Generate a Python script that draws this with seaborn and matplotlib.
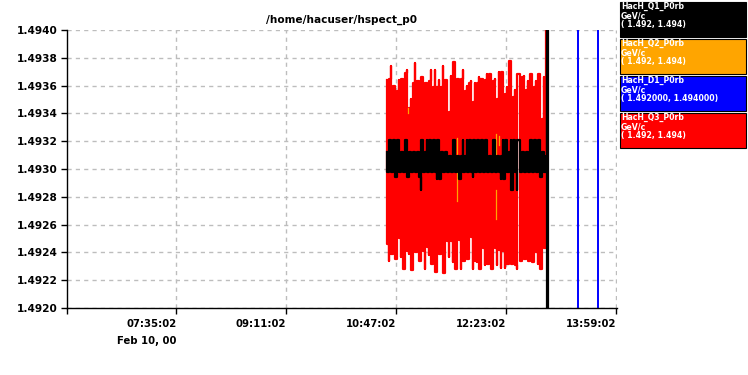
import numpy as np
import pandas as pd
import matplotlib
matplotlib.use("Agg")
import matplotlib.pyplot as plt
from matplotlib.patches import Rectangle
import seaborn as sns

# ---------------- data ----------------
title = "/home/hacuser/hspect_p0"
tick_times = ["2000-02-10 07:35:02", "2000-02-10 09:11:02", "2000-02-10 10:47:02",
              "2000-02-10 12:23:02", "2000-02-10 13:59:02"]
tick_labels = ["07:35:02\nFeb 10, 00", "09:11:02", "10:47:02", "12:23:02", "13:59:02"]
x_start = "2000-02-10 05:59:38"
x_end = "2000-02-10 13:59:30"
y_ticks = [1.4920, 1.4922, 1.4924, 1.4926, 1.4928, 1.4930, 1.4932, 1.4934, 1.4936, 1.4938, 1.4940]

sample_start = "2000-02-10 10:38:56"
sample_step_s = 105

# HacH_Q3_P0rb (red): per-sample max / min
red_hi = [1.49364, 1.49365, 1.49374, 1.49360, 1.49359, 1.49356, 1.49364, 1.49365, 1.49365, 1.49369,
          1.49371, 1.49344, 1.49350, 1.49362, 1.49376, 1.49363, 1.49363, 1.49366, 1.49361, 1.49362,
          1.49362, 1.49363, 1.49371, 1.49359, 1.49371, 1.49359, 1.49364, 1.49359, 1.49374, 1.49364,
          1.49362, 1.49341, 1.49367, 1.49377, 1.49362, 1.49365, 1.49365, 1.49365, 1.49371, 1.49356,
          1.49360, 1.49362, 1.49363, 1.49348, 1.49362, 1.49362, 1.49366, 1.49365, 1.49364, 1.49364,
          1.49368, 1.49368, 1.49365, 1.49363, 1.49365, 1.49350, 1.49370, 1.49370, 1.49370, 1.49354,
          1.49359, 1.49378, 1.49371, 1.49352, 1.49357, 1.49368, 1.49366, 1.49366, 1.49367, 1.49357,
          1.49363, 1.49368, 1.49364, 1.49359, 1.49363, 1.49368, 1.49363, 1.49336, 1.49366, 1.49368]
red_lo = [1.49246, 1.49234, 1.49239, 1.49241, 1.49235, 1.49239, 1.49250, 1.49237, 1.49228, 1.49240,
          1.49241, 1.49239, 1.49227, 1.49237, 1.49240, 1.49245, 1.49234, 1.49234, 1.49241, 1.49228,
          1.49244, 1.49238, 1.49232, 1.49241, 1.49226, 1.49237, 1.49239, 1.49239, 1.49225, 1.49239,
          1.49248, 1.49237, 1.49248, 1.49233, 1.49228, 1.49235, 1.49249, 1.49228, 1.49234, 1.49239,
          1.49235, 1.49245, 1.49251, 1.49228, 1.49234, 1.49233, 1.49228, 1.49237, 1.49243, 1.49231,
          1.49232, 1.49246, 1.49228, 1.49239, 1.49243, 1.49231, 1.49242, 1.49229, 1.49241, 1.49229,
          1.49232, 1.49239, 1.49232, 1.49238, 1.49231, 1.49228, 1.49234, 1.49238, 1.49235, 1.49237,
          1.49234, 1.49239, 1.49233, 1.49237, 1.49240, 1.49232, 1.49228, 1.49231, 1.49243, 1.49244]
red_end_time = "2000-02-10 12:57:44"
red_end_value = 1.4950

# HacH_Q1_P0rb (black)
black_hi = [1.49312, 1.49321, 1.49312, 1.49321, 1.49312, 1.49321, 1.49312, 1.49312, 1.49312, 1.49321,
            1.49321, 1.49312, 1.49312, 1.49312, 1.49312, 1.49312, 1.49312, 1.49321, 1.49312, 1.49312,
            1.49321, 1.49321, 1.49312, 1.49321, 1.49321, 1.49321, 1.49312, 1.49312, 1.49312, 1.49312,
            1.49309, 1.49309, 1.49309, 1.49321, 1.49309, 1.49309, 1.49309, 1.49309, 1.49321, 1.49309,
            1.49321, 1.49321, 1.49309, 1.49321, 1.49309, 1.49321, 1.49321, 1.49321, 1.49321, 1.49321,
            1.49309, 1.49309, 1.49309, 1.49321, 1.49309, 1.49309, 1.49309, 1.49309, 1.49321, 1.49321,
            1.49312, 1.49312, 1.49321, 1.49321, 1.49312, 1.49321, 1.49321, 1.49312, 1.49312, 1.49312,
            1.49312, 1.49321, 1.49321, 1.49321, 1.49312, 1.49321, 1.49321, 1.49312, 1.49312, 1.49309]
black_lo = [1.49298, 1.49298, 1.49298, 1.49298, 1.49294, 1.49298, 1.49298, 1.49298, 1.49298, 1.49298,
            1.49294, 1.49298, 1.49298, 1.49298, 1.49298, 1.49298, 1.49294, 1.49285, 1.49298, 1.49298,
            1.49298, 1.49298, 1.49298, 1.49298, 1.49298, 1.49293, 1.49293, 1.49298, 1.49298, 1.49298,
            1.49298, 1.49298, 1.49298, 1.49298, 1.49298, 1.49298, 1.49293, 1.49298, 1.49298, 1.49298,
            1.49298, 1.49298, 1.49298, 1.49294, 1.49298, 1.49298, 1.49298, 1.49298, 1.49298, 1.49298,
            1.49298, 1.49298, 1.49298, 1.49298, 1.49298, 1.49298, 1.49298, 1.49293, 1.49293, 1.49298,
            1.49298, 1.49298, 1.49285, 1.49298, 1.49298, 1.49285, 1.49298, 1.49298, 1.49298, 1.49298,
            1.49298, 1.49298, 1.49298, 1.49298, 1.49298, 1.49298, 1.49294, 1.49298, 1.49298, 1.49298]
black_end_times = ["2000-02-10 12:58:50", "2000-02-10 12:59:40"]
black_end_values = [1.4950, 1.4910]

# HacH_Q2_P0rb (orange): visible spikes
orange_times = ["2000-02-10 10:57:15", "2000-02-10 11:40:02", "2000-02-10 12:14:08",
                "2000-02-10 12:14:08", "2000-02-10 12:16:44"]
orange_top = [1.49344, 1.49322, 1.49325, 1.49285, 1.49324]
orange_bot = [1.49340, 1.49277, 1.49308, 1.49264, 1.49317]

# HacH_D1_P0rb (blue): crossings of the full range
blue_times = ["2000-02-10 13:25:20", "2000-02-10 13:42:44"]
blue_low = [1.4910, 1.4910]
blue_high = [1.4950, 1.4950]

legend_names = ["HacH_Q1_P0rb", "HacH_Q2_P0rb", "HacH_D1_P0rb", "HacH_Q3_P0rb"]
legend_units = ["GeV/c", "GeV/c", "GeV/c", "GeV/c"]
legend_ranges = ["( 1.492, 1.494)", "( 1.492, 1.494)", "( 1.492000, 1.494000)", "( 1.492, 1.494)"]
legend_colors = ["#000000", "#ffa500", "#0000ff", "#ff0000"]

# ---------------- build plotting tables ----------------
sample_times = pd.date_range(sample_start, periods=len(red_hi), freq=f"{sample_step_s}s")


def snake(times, hi, lo):
    xs, ys = [], []
    for i, (t, h, l) in enumerate(zip(times, hi, lo)):
        pair = (h, l) if i % 2 == 0 else (l, h)
        xs += [t, t]
        ys += list(pair)
    return xs, ys


rx, ry = snake(sample_times, red_hi, red_lo)
rx.append(pd.Timestamp(red_end_time)); ry.append(red_end_value)
red_df = pd.DataFrame({"time": rx, "value": ry})

bx, by = snake(sample_times, black_hi, black_lo)
for t in black_end_times:
    for v in black_end_values:
        bx.append(pd.Timestamp(t)); by.append(v)
    black_end_values = black_end_values[::-1]
black_df = pd.DataFrame({"time": bx, "value": by})

o_rows = []
for k, (t, a, b) in enumerate(zip(orange_times, orange_top, orange_bot)):
    o_rows += [(pd.Timestamp(t), a, k), (pd.Timestamp(t), b, k)]
orange_df = pd.DataFrame(o_rows, columns=["time", "value", "seg"])

b_rows = []
for k, (t, lo, hi) in enumerate(zip(blue_times, blue_low, blue_high)):
    b_rows += [(pd.Timestamp(t), lo, k), (pd.Timestamp(t), hi, k)]
blue_df = pd.DataFrame(b_rows, columns=["time", "value", "seg"])

# ---------------- figure ----------------
plt.rcParams["font.family"] = ["DejaVu Sans"]
plt.rcParams["lines.scale_dashes"] = False
W, H = 748, 375
fig = plt.figure(figsize=(W / 100, H / 100), dpi=100)
ax = fig.add_axes([67 / W, 1 - 308 / H, 550 / W, 278 / H])

sns.lineplot(data=red_df, x="time", y="value", sort=False, estimator=None,
             color="#ff0000", lw=1.6, drawstyle="steps-post", ax=ax, zorder=3)
sns.lineplot(data=blue_df, x="time", y="value", units="seg", sort=False, estimator=None,
             color="#0000ff", lw=1.4, ax=ax, zorder=4)
sns.lineplot(data=orange_df, x="time", y="value", units="seg", sort=False, estimator=None,
             color="#ffa500", lw=0.9, ax=ax, zorder=5)
sns.lineplot(data=black_df, x="time", y="value", sort=False, estimator=None,
             color="#000000", lw=1.6, drawstyle="steps-post", ax=ax, zorder=6)

ax.set_xlim(pd.Timestamp(x_start), pd.Timestamp(x_end))
ax.set_ylim(y_ticks[0], y_ticks[-1])
ax.set_yticks(y_ticks)
ax.set_yticklabels([f"{v:.4f}" for v in y_ticks], fontsize=7.6, fontweight="bold")
ax.set_xticks([pd.Timestamp(t) for t in tick_times])
ax.set_xticklabels(tick_labels, fontsize=7.3, fontweight="bold", ha="right",
                   multialignment="right", linespacing=1.9)
ax.set_xticks([pd.Timestamp(x_start)], minor=True)
ax.set_xlabel(""); ax.set_ylabel("")
ax.tick_params(axis="both", which="both", direction="out", length=4, width=1, color="black")
ax.tick_params(axis="y", pad=2.5)
ax.tick_params(axis="x", pad=4)
ax.grid(True, which="major", color="#bdbdbd", lw=1, linestyle=(0, (3, 3)))
ax.set_axisbelow(True)
for s in ["top", "right"]:
    ax.spines[s].set_visible(False)
for s in ["left", "bottom"]:
    ax.spines[s].set_color("black")
    ax.spines[s].set_linewidth(1.0)
    ax.spines[s].set_zorder(7)

fig.text(341.5 / W, 1 - 20 / H, title, ha="center", va="center", fontsize=7.6, fontweight="bold")

# legend boxes
for k, (name, unit, rng, col) in enumerate(zip(legend_names, legend_units, legend_ranges, legend_colors)):
    top = 2 + 37 * k
    fig.patches.append(Rectangle((620 / W, 1 - (top + 35) / H), 126 / W, 35 / H,
                                 transform=fig.transFigure, facecolor=col,
                                 edgecolor="black", lw=0.8))
    for j, txt in enumerate([name, unit, rng]):
        fig.text(621 / W, 1 - (top + 4.5 + 9.2 * j) / H, txt, ha="left", va="center",
                 fontsize=5.6, fontweight="bold", color="white")

fig.savefig("out.png", dpi=100)
